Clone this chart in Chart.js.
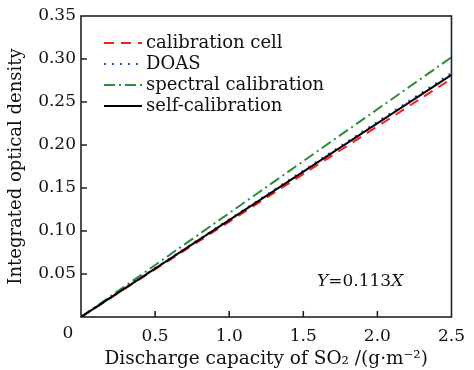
<!DOCTYPE html>
<html><head><meta charset="utf-8">
<script src="https://cdn.jsdelivr.net/npm/chart.js@4/dist/chart.umd.min.js"></script>
<style>html,body{margin:0;padding:0;background:#fff}#wrap{width:474px;height:370px;position:relative}</style>
</head><body><div id="wrap"><canvas id="c" width="474" height="370"></canvas></div>
<script>
const xValues = [0, 2.5];
const calibrationCell = [0, 0.277];
const doas = [0, 0.2835];
const spectralCalibration = [0, 0.302];
const selfCalibration = [0, 0.2815];
const seriesNames = ['calibration cell', 'DOAS', 'spectral calibration', 'self-calibration'];
const xTickLabels = ['', '0.5', '1.0', '1.5', '2.0', '2.5'];
const yTickLabels = ['', '0.05', '0.10', '0.15', '0.20', '0.25', '0.30', '0.35'];
const originLabel = '0';
const equationText = ['Y', '=0.113', 'X'];

const FONT = '"DejaVu Serif", serif';
const styles = [
  {color:'#ff1a1a', dash:[10,7], width:2},
  {color:'#2350d6', dash:[2,6], width:2.2},
  {color:'#2e8b3a', dash:[11,4,2,4], width:2},
  {color:'#000000', dash:[], width:2}
];
const seriesData = [calibrationCell, doas, spectralCalibration, selfCalibration];

const datasets = seriesData.map((arr, i) => ({
  label: seriesNames[i],
  data: arr.map((v, j) => ({x: xValues[j], y: v})),
  borderColor: styles[i].color,
  borderDash: styles[i].dash,
  borderWidth: styles[i].width,
  pointRadius: 0,
  fill: false,
  tension: 0,
  order: [3, 1, 2, 0][i]
}));

const decor = {
  id: 'decor',
  afterDraw(chart) {
    const ctx = chart.ctx, a = chart.chartArea, xs = chart.scales.x, ys = chart.scales.y;
    ctx.save();
    ctx.strokeStyle = '#222'; ctx.lineWidth = 1.6; ctx.setLineDash([]);
    ctx.strokeRect(a.left, a.top, a.right - a.left, a.bottom - a.top);
    ctx.beginPath();
    xs.ticks.forEach(t => { const px = xs.getPixelForValue(t.value); if (t.value > 0 && t.value < 2.5) { ctx.moveTo(px, a.bottom); ctx.lineTo(px, a.bottom - 6); } });
    ys.ticks.forEach(t => { const py = ys.getPixelForValue(t.value); if (t.value > 0.001 && t.value < 0.349) { ctx.moveTo(a.left, py); ctx.lineTo(a.left + 6, py); } });
    ctx.stroke();
    ctx.fillStyle = '#111'; ctx.font = '17px ' + FONT; ctx.textAlign = 'center'; ctx.textBaseline = 'middle';
    ctx.fillText(originLabel, a.left - 13, a.bottom + 17);
    const rows = [43, 64, 85, 106];
    ctx.font = '18px ' + FONT; ctx.textAlign = 'left';
    rows.forEach((ry, i) => {
      const s = styles[i];
      ctx.strokeStyle = s.color; ctx.lineWidth = s.width; ctx.setLineDash(s.dash);
      ctx.beginPath(); ctx.moveTo(104, ry); ctx.lineTo(142, ry); ctx.stroke();
      ctx.fillStyle = '#111';
      ctx.fillText(seriesNames[i], 146, ry);
    });
    ctx.setLineDash([]);
    let x = 317; const y = 282;
    ctx.font = 'italic 17px ' + FONT; ctx.fillText(equationText[0], x, y); x += ctx.measureText(equationText[0]).width;
    ctx.font = '17px ' + FONT; ctx.fillText(equationText[1], x, y); x += ctx.measureText(equationText[1]).width;
    ctx.font = 'italic 17px ' + FONT; ctx.fillText(equationText[2], x, y);
    ctx.restore();
  }
};

new Chart(document.getElementById('c'), {
  type: 'line',
  data: {datasets},
  options: {
    responsive: false, animation: false, devicePixelRatio: 1,
    layout: {padding: {top: 16, right: 19, left: 0, bottom: 0}},
    plugins: {legend: {display: false}, tooltip: {enabled: false}},
    scales: {
      x: {
        type: 'linear', min: 0, max: 2.5,
        afterFit(s) { s.height = 53; },
        grid: {display: false, drawTicks: false},
        border: {display: false},
        ticks: {stepSize: 0.5, padding: 9, color: '#111', font: {family: FONT, size: 17},
          callback: (v) => xTickLabels[Math.round(v / 0.5)] ?? '', maxRotation: 0},
        title: {display: true, text: 'Discharge capacity of SO₂ /(g·m⁻²)', color: '#111',
          font: {family: FONT, size: 18.5}, padding: {top: 0, bottom: 0}}
      },
      y: {
        min: 0, max: 0.35,
        afterFit(s) { s.width = 81; },
        grid: {display: false, drawTicks: false},
        border: {display: false},
        ticks: {stepSize: 0.05, padding: 5, color: '#111', font: {family: FONT, size: 17},
          callback: (v) => yTickLabels[Math.round(v / 0.05)] ?? ''},
        title: {display: true, text: 'Integrated optical density', color: '#111',
          font: {family: FONT, size: 18}, padding: {top: 6, bottom: 0}}
      }
    }
  },
  plugins: [decor]
});
</script></body></html>
